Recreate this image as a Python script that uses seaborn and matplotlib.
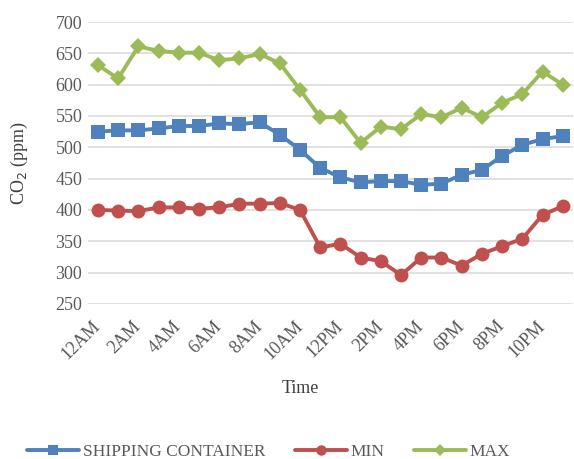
import matplotlib
matplotlib.use("Agg")
import matplotlib.pyplot as plt
import matplotlib.transforms as mtransforms
import seaborn as sns
import numpy as np
import pandas as pd

hours = ["12AM", "1AM", "2AM", "3AM", "4AM", "5AM", "6AM", "7AM", "8AM", "9AM", "10AM", "11AM",
         "12PM", "1PM", "2PM", "3PM", "4PM", "5PM", "6PM", "7PM", "8PM", "9PM", "10PM", "11PM"]
shipping = [525, 527, 527, 530, 534, 534, 538, 537, 540, 520, 496, 467,
            452, 444, 446, 446, 440, 442, 456, 464, 486, 504, 513, 518]
min_vals = [400, 399, 398, 404, 404, 402, 404, 410, 410, 411, 400, 340,
            346, 324, 318, 296, 324, 324, 311, 330, 342, 354, 392, 406]
max_vals = [631, 610, 661, 654, 651, 651, 639, 642, 649, 634, 592, 548,
            548, 507, 533, 529, 553, 548, 563, 548, 571, 585, 621, 600]
tick_labels = ["12AM", "2AM", "4AM", "6AM", "8AM", "10AM", "12PM", "2PM", "4PM", "6PM", "8PM", "10PM"]

sns.set_theme(style="white")
plt.rcParams['font.family'] = ['Liberation Serif', 'DejaVu Serif']

fig = plt.figure(figsize=(5.74, 4.59), dpi=100)
ax = fig.add_axes([0.153, 0.338, 0.845, 0.614])

x = np.arange(len(hours))
series = [
    ("SHIPPING CONTAINER", shipping, "#4F81BD", "s", 10),
    ("MIN", min_vals, "#C0504D", "o", 10),
    ("MAX", max_vals, "#9BBB59", "D", 8),
]
for name, vals, col, mk, ms in series:
    sns.lineplot(x=x, y=vals, ax=ax, color=col, marker=mk, markersize=ms,
                 markeredgewidth=0, linewidth=2.8, label=name)

ax.set_ylim(250, 700)
ax.set_yticks(np.arange(250, 701, 50))
ax.set_xlim(-0.5, 23.5)
ax.set_xticks(x[::2])
ax.set_xticklabels(tick_labels, rotation=45, ha="right", rotation_mode="anchor")
ax.grid(axis="y", color="#D9D9D9", linewidth=1.1)
ax.set_axisbelow(True)
for s in ax.spines.values():
    s.set_visible(False)
ax.tick_params(axis="both", length=0, labelsize=13, colors="#595959", pad=4)
ax.tick_params(axis="x", pad=2)
offset = mtransforms.ScaledTranslation(-6 / 100, -11 / 100, fig.dpi_scale_trans)
for lbl in ax.get_xticklabels():
    lbl.set_transform(lbl.get_transform() + offset)

ax.set_xlabel("Time", fontsize=13, color="#404040")
ax.xaxis.set_label_coords((301 - 88) / 485, -0.27)
ax.set_ylabel("CO$_2$ (ppm)", fontsize=13, color="#404040")
ax.yaxis.set_label_coords(-0.12, 0.5)

leg = ax.legend(loc="center", bbox_to_anchor=(0.468, 0.016), bbox_transform=fig.transFigure,
                ncol=3, frameon=False, markerscale=0.75,
                fontsize=12.5, handlelength=3.0, columnspacing=1.7, handletextpad=0.2)
for t in leg.get_texts():
    t.set_color("#595959")

fig.savefig("out.png", dpi=100)
